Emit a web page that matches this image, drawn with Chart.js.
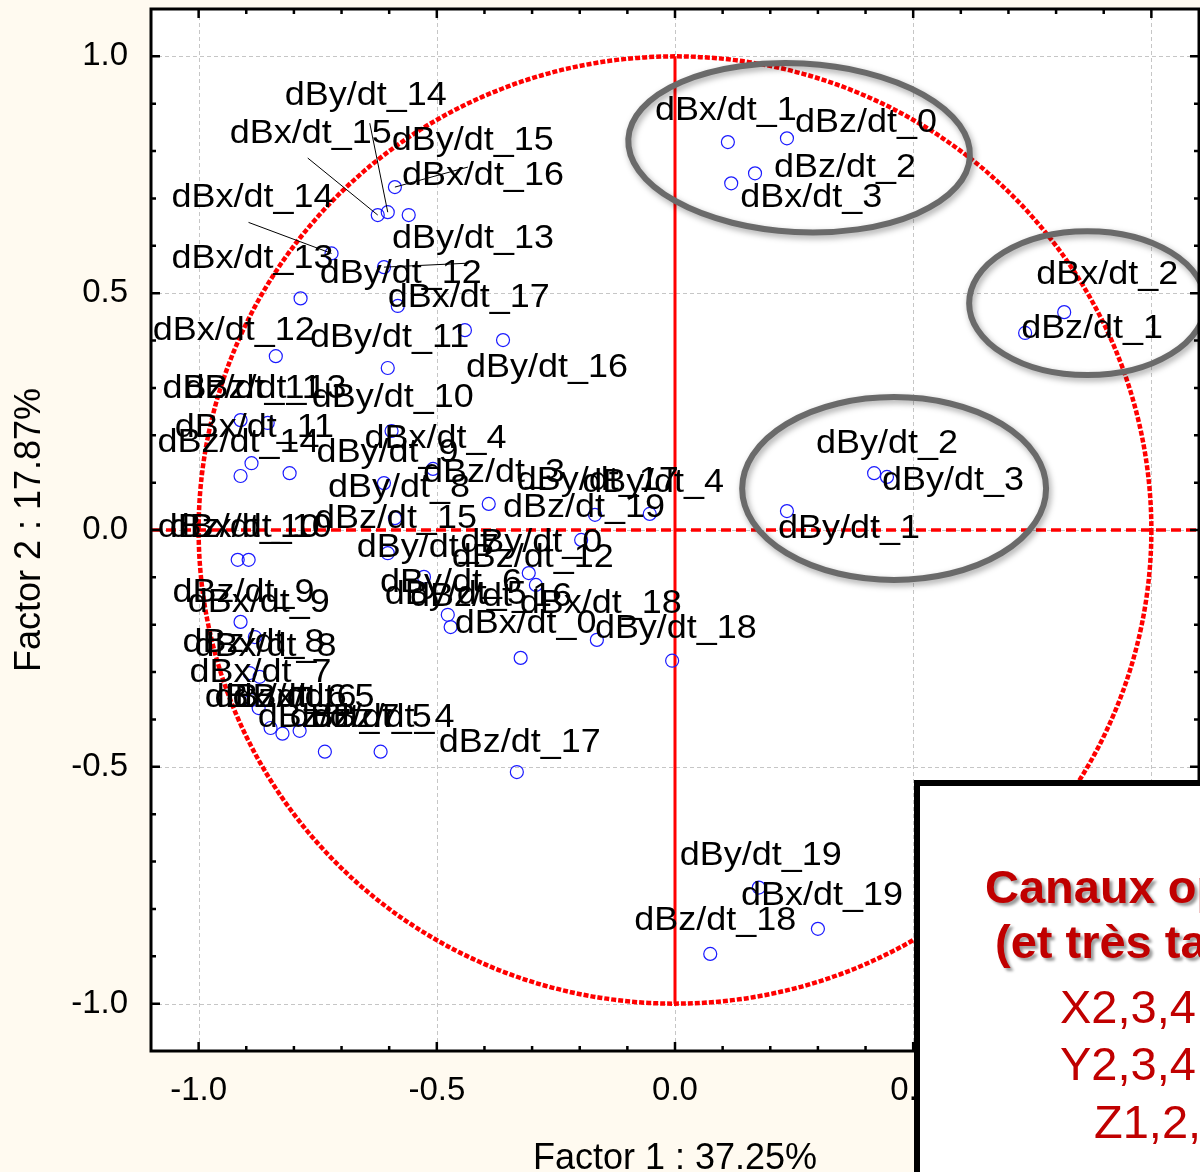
<!DOCTYPE html>
<html>
<head>
<meta charset="utf-8">
<title>Factor loadings – Factor 1 × Factor 2</title>
<script src="https://cdn.jsdelivr.net/npm/chart.js@4.4.1/dist/chart.umd.min.js"></script>
<style>
  html, body { margin: 0; padding: 0; background: #fffaf0; }
  canvas { display: block; }
</style>
</head>
<body>
<canvas id="loadings" width="1200" height="1172"></canvas>
<script>
// ---- Data: loadings of every channel on Factor 1 (x) and Factor 2 (y), index = time slot 0..19
const channels = ['dBx/dt', 'dBy/dt', 'dBz/dt'];

const dBxF1 = [-0.471, 0.111, 0.817, 0.118, -0.595, -0.824, -0.874, -0.889, -0.893, -0.882,
               -0.918, -0.855, -0.838, -0.786, -0.721, -0.624, -0.588, -0.582, -0.324, 0.300];
const dBxF2 = [-0.205, 0.819, 0.460, 0.732, 0.209, -0.430, -0.376, -0.359, -0.302, -0.226,
               -0.063, 0.226, 0.367, 0.489, 0.584, 0.665, 0.724, 0.473, -0.270, -0.842];

const dByF1 = [-0.197, 0.235, 0.418, 0.445, -0.006, -0.477, -0.527, -0.603, -0.611, -0.809,
               -0.603, -0.441, -0.307, -0.611, -0.603, -0.559, -0.361, -0.053, -0.164, 0.176];
const dByF2 = [-0.021, 0.040, 0.120, 0.112, -0.276, -0.179, -0.099, -0.049, 0.099, 0.120,
               0.342, 0.422, -0.091, 0.555, 0.671, 0.665, 0.401, 0.034, -0.232, -0.755];

const dBzF1 = [0.235, 0.735, 0.168, -0.508, -0.618, -0.735, -0.849, -0.788, -0.872, -0.912,
               -0.895, -0.912, -0.391, -0.912, -0.889, -0.588, -0.292, -0.332, 0.074, -0.168];
const dBzF2 = [0.827, 0.416, 0.753, 0.129, -0.468, -0.468, -0.418, -0.424, -0.310, -0.194,
               -0.063, 0.114, 0.055, 0.232, 0.141, 0.025, -0.116, -0.511, -0.895, 0.032];

// Axis ticks and titles
const tickValues = [-1.0, -0.5, 0.0, 0.5, 1.0];
const axisMin = -1.1;
const axisMax = 1.1;
const unitRadius = 1.0;
const xTitle = 'Factor 1 : 37.25%';
const yTitle = 'Factor 2 : 17.87%';

// Note box text
const noteLines = ['Canaux optimaux', '(et très tardifs)', 'X2,3,4', 'Y2,3,4', 'Z1,2,3'];

// ---- Layout of the point labels (pixel shift of the label baseline start from its point)
const dBxShift = [[4,6],[-73,-22],[-28,-28],[9,24],[-27,17],[-50,-27],[-54,-1],[-62,-18],[-55,-17],[-67,-25],
                  [-68,-23],[-93,14],[-123,-16],[-129,-30],[-160,-46],[-148,-72],[7,-2],[-10,1],[-1,-45],[-77,-24]];
const dByShift = [[-121,12],[-9,27],[-58,-20],[-5,13],[-90,-169],[-63,-11],[-44,15],[-31,4],[-56,14],[27,-11],
                  [-76,39],[-155,17],[-209,-290],[8,-19],[-103,-107],[-17,-65],[-37,37],[-133,-24],[-2,-2],[-79,-23]];
const dBzShift = [[8,-6],[-4,5],[19,4],[-10,13],[-68,-25],[-35,-25],[-56,-21],[-42,-4],[-77,-25],[-68,-20],
                  [-91,-23],[-78,-78],[-37,63],[-56,-22],[-94,-11],[-80,10],[-126,21],[-78,-20],[-76,-24],[-92,2]];

// Leader lines: end point relative to the label anchor
const leaders = {
  'dBy/dt_14': [85, 18],
  'dBx/dt_15': [78, 15],
  'dBx/dt_16': [66, -18],
  'dBx/dt_14': [77, 15],
  'dBy/dt_13': [77, 15]
};

// Outlines around the three highlighted groups (data units, tilt in degrees)
const groupOutlines = [
  { cx: 0.2605, cy: 0.807, rx: 0.359, ry: 0.178, tilt: 3 },
  { cx: 0.8655, cy: 0.479, rx: 0.248, ry: 0.152, tilt: 0 },
  { cx: 0.460,  cy: 0.0876, rx: 0.319, ry: 0.193, tilt: 0 }
];

const FONT = '"Liberation Sans", Arial, Helvetica, sans-serif';

const f1 = [dBxF1, dByF1, dBzF1];
const f2 = [dBxF2, dByF2, dBzF2];
const shifts = [dBxShift, dByShift, dBzShift];
const points = [];
channels.forEach((ch, c) => {
  f1[c].forEach((x, i) => {
    points.push({ x: x, y: f2[c][i], name: ch + '_' + i, shift: shifts[c][i] });
  });
});

// ---- Plugins
const backdrop = {
  id: 'backdrop',
  beforeDraw(chart) {
    const { ctx, chartArea: a } = chart;
    ctx.save();
    ctx.fillStyle = '#fffaf0';
    ctx.fillRect(0, 0, chart.width, chart.height);
    ctx.fillStyle = '#ffffff';
    ctx.fillRect(a.left, a.top, a.right - a.left, a.bottom - a.top);
    ctx.restore();
  }
};

const referenceLines = {
  id: 'referenceLines',
  beforeDatasetsDraw(chart) {
    const { ctx, chartArea: a, scales: { x: xs, y: ys } } = chart;
    ctx.save();
    // dashed grid at major ticks
    ctx.strokeStyle = '#c6c6c6';
    ctx.lineWidth = 1;
    ctx.setLineDash([4, 3]);
    tickValues.forEach(v => {
      const px = Math.round(xs.getPixelForValue(v)) + 0.5;
      ctx.beginPath(); ctx.moveTo(px, a.top); ctx.lineTo(px, a.bottom); ctx.stroke();
      const py = Math.round(ys.getPixelForValue(v)) + 0.5;
      ctx.beginPath(); ctx.moveTo(a.left, py); ctx.lineTo(a.right, py); ctx.stroke();
    });
    // unit circle of correlations
    const cx = xs.getPixelForValue(0), cy = ys.getPixelForValue(0);
    const rx = xs.getPixelForValue(unitRadius) - cx;
    const ry = cy - ys.getPixelForValue(unitRadius);
    ctx.strokeStyle = '#ff0000';
    ctx.lineWidth = 4.5;
    ctx.setLineDash([5, 2]);
    ctx.beginPath(); ctx.ellipse(cx, cy, rx, ry, 0, 0, Math.PI * 2); ctx.stroke();
    // horizontal zero line
    ctx.lineWidth = 3.5;
    ctx.setLineDash([10, 5]);
    ctx.beginPath(); ctx.moveTo(a.left, cy); ctx.lineTo(a.right, cy); ctx.stroke();
    // vertical zero line
    ctx.setLineDash([]);
    ctx.lineWidth = 3;
    ctx.beginPath();
    ctx.moveTo(cx, ys.getPixelForValue(unitRadius));
    ctx.lineTo(cx, ys.getPixelForValue(-unitRadius));
    ctx.stroke();
    ctx.restore();
  }
};

const pointLabels = {
  id: 'pointLabels',
  afterDatasetsDraw(chart) {
    const { ctx } = chart;
    const meta = chart.getDatasetMeta(0);
    ctx.save();
    ctx.font = '33px ' + FONT;
    ctx.fillStyle = '#000';
    ctx.strokeStyle = '#000';
    ctx.lineWidth = 1;
    ctx.textBaseline = 'alphabetic';
    ctx.textAlign = 'left';
    meta.data.forEach((el, k) => {
      const p = points[k];
      const lx = el.x + p.shift[0];
      const ly = el.y + p.shift[1];
      const lead = leaders[p.name];
      if (lead) {
        ctx.beginPath();
        ctx.moveTo(lx + lead[0], ly + lead[1]);
        ctx.lineTo(el.x, el.y);
        ctx.stroke();
      }
      ctx.save();
      ctx.translate(lx, ly);
      ctx.scale(1.09, 1);
      ctx.fillText(p.name, 0, 0);
      ctx.restore();
    });
    ctx.restore();
  }
};

const outlines = {
  id: 'outlines',
  afterDatasetsDraw(chart) {
    const { ctx, scales: { x: xs, y: ys } } = chart;
    ctx.save();
    ctx.strokeStyle = '#6a6a6a';
    ctx.lineWidth = 6;
    ctx.shadowColor = 'rgba(0,0,0,0.35)';
    ctx.shadowBlur = 6;
    ctx.shadowOffsetX = 2;
    ctx.shadowOffsetY = 3;
    groupOutlines.forEach(g => {
      const px = xs.getPixelForValue(g.cx);
      const py = ys.getPixelForValue(g.cy);
      const rx = xs.getPixelForValue(g.cx + g.rx) - px;
      const ry = py - ys.getPixelForValue(g.cy + g.ry);
      ctx.beginPath();
      ctx.ellipse(px, py, rx, ry, g.tilt * Math.PI / 180, 0, Math.PI * 2);
      ctx.stroke();
    });
    ctx.restore();
  }
};

const frame = {
  id: 'frame',
  afterDatasetsDraw(chart) {
    const { ctx, chartArea: a, scales: { x: xs, y: ys } } = chart;
    ctx.save();
    ctx.strokeStyle = '#000';
    ctx.lineWidth = 3;
    ctx.strokeRect(a.left, a.top, a.right - a.left, a.bottom - a.top);
    ctx.lineWidth = 2.5;
    for (let k = -10; k <= 10; k++) {
      const v = k / 10;
      const len = (k % 5 === 0) ? 9 : 5;
      const px = xs.getPixelForValue(v);
      const py = ys.getPixelForValue(v);
      ctx.beginPath();
      ctx.moveTo(px, a.bottom); ctx.lineTo(px, a.bottom - len);
      ctx.moveTo(px, a.top); ctx.lineTo(px, a.top + len);
      ctx.moveTo(a.left, py); ctx.lineTo(a.left + len, py);
      ctx.moveTo(a.right, py); ctx.lineTo(a.right - len, py);
      ctx.stroke();
    }
    ctx.restore();
  }
};

const noteBox = {
  id: 'noteBox',
  afterDraw(chart) {
    const { ctx } = chart;
    ctx.save();
    ctx.fillStyle = '#ffffff';
    ctx.fillRect(917, 783, 400, 500);
    ctx.strokeStyle = '#000';
    ctx.lineWidth = 6;
    ctx.strokeRect(917, 783, 400, 500);
    ctx.fillStyle = '#c00000';
    ctx.textBaseline = 'alphabetic';
    ctx.textAlign = 'left';
    ctx.shadowColor = 'rgba(0,0,0,0.4)';
    ctx.shadowBlur = 3;
    ctx.shadowOffsetX = 3;
    ctx.shadowOffsetY = 3;
    ctx.font = 'bold 47px ' + FONT;
    ctx.fillText(noteLines[0], 985, 903);
    ctx.fillText(noteLines[1], 995, 958);
    ctx.shadowColor = 'rgba(0,0,0,0)';
    ctx.font = '47px ' + FONT;
    ctx.fillText(noteLines[2], 1060, 1023);
    ctx.fillText(noteLines[3], 1060, 1080);
    ctx.fillText(noteLines[4], 1094, 1138);
    ctx.restore();
  }
};

const fixedTicks = scale => { scale.ticks = tickValues.map(v => ({ value: v })); };
const noEdgePadding = s => { s.paddingLeft = 0; s.paddingRight = 0; s.paddingTop = 0; s.paddingBottom = 0; };

new Chart(document.getElementById('loadings'), {
  type: 'scatter',
  data: {
    datasets: [{
      data: points,
      pointRadius: 6.5,
      pointHoverRadius: 6.5,
      borderColor: '#1a1aff',
      backgroundColor: 'rgba(0,0,0,0)',
      borderWidth: 1.2
    }]
  },
  options: {
    responsive: false,
    animation: false,
    devicePixelRatio: 1,
    events: [],
    layout: { autoPadding: false, padding: { top: 9, right: 1, left: 0, bottom: 0 } },
    plugins: { legend: { display: false }, tooltip: { enabled: false } },
    scales: {
      x: {
        type: 'linear',
        min: axisMin,
        max: axisMax,
        afterBuildTicks: fixedTicks,
        afterFit: s => { s.height = 121; noEdgePadding(s); },
        grid: { display: false },
        border: { display: false },
        ticks: {
          padding: 12, color: '#000', autoSkip: false, maxRotation: 0,
          font: { size: 33, family: FONT },
          callback: v => Number(v).toFixed(1)
        },
        title: {
          display: true, text: xTitle, color: '#000',
          font: { size: 36, family: FONT, lineHeight: 0.6 },
          padding: { top: 0, bottom: 2 }
        }
      },
      y: {
        type: 'linear',
        min: axisMin,
        max: axisMax,
        afterBuildTicks: fixedTicks,
        afterFit: s => { s.width = 151; noEdgePadding(s); },
        grid: { display: false },
        border: { display: false },
        ticks: {
          padding: 15, color: '#000', autoSkip: false,
          font: { size: 33, family: FONT },
          callback: v => Number(v).toFixed(1)
        },
        title: {
          display: true, text: yTitle, color: '#000',
          font: { size: 36, family: FONT, lineHeight: 0.8 },
          padding: { top: 16, bottom: 0 }
        }
      }
    }
  },
  plugins: [backdrop, referenceLines, pointLabels, outlines, frame, noteBox]
});
</script>
</body>
</html>
